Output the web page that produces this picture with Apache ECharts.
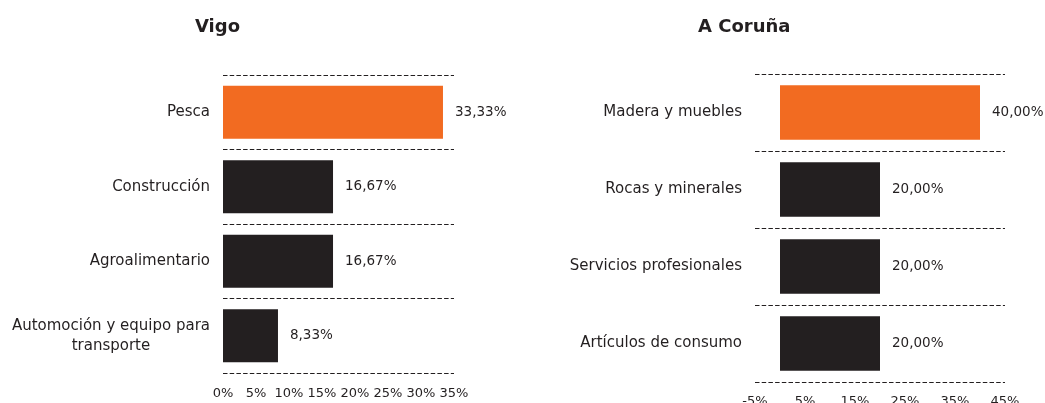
<!DOCTYPE html>
<html>
<head>
<meta charset="utf-8">
<script src="https://cdn.jsdelivr.net/npm/echarts@6/dist/echarts.min.js"></script>
<style>
  html, body { margin: 0; padding: 0; background: #fff; }
  #chart { width: 1045px; height: 403px; }
</style>
</head>
<body>
<div id="chart"></div>
<script>
// Vigo
const vigoCats = ['Pesca', 'Construcción', 'Agroalimentario', 'Automoción y equipo para\ntransporte']
const vigoVals = [33.33, 16.67, 16.67, 8.33]
// A Coruña
const corunaCats = ['Madera y muebles', 'Rocas y minerales', 'Servicios profesionales', 'Artículos de consumo']
const corunaVals = [40, 20, 20, 20]

const orange = '#F26B21'
const dark = '#231F20'
const font = 'DejaVu Sans'

const chart = echarts.init(document.getElementById('chart'))

function pct (v) {
  return v.toFixed(2).replace('.', ',') + '%'
}

function catAxis (idx, cats) {
  return {
    type: 'category',
    gridIndex: idx,
    data: cats,
    inverse: true,
    axisLine: { show: false },
    axisTick: { show: false },
    splitLine: {
      show: true,
      lineStyle: { color: dark, width: 1, type: [4.5, 2.2] }
    },
    axisLabel: {
      margin: 13,
      color: dark,
      fontFamily: font,
      fontSize: 15,
      lineHeight: 20,
      formatter: function (v) { return '{c|' + v.split('\n').join('}\n{c|') + '}' },
      rich: { c: { align: 'center', fontFamily: font, fontSize: 15, color: dark, lineHeight: 20 } }
    }
  }
}

function valAxis (idx, min, max, step, margin) {
  return {
    type: 'value',
    gridIndex: idx,
    min: min,
    max: max,
    interval: step,
    axisLine: { show: false },
    axisTick: { show: false },
    splitLine: { show: false },
    axisLabel: {
      margin: margin,
      color: dark,
      fontFamily: font,
      fontSize: 13,
      formatter: '{value}%'
    }
  }
}

function barSeries (idx, vals) {
  return {
    type: 'bar',
    xAxisIndex: idx,
    yAxisIndex: idx,
    data: vals,
    barCategoryGap: '29%',
    itemStyle: {
      color: function (p) { return p.dataIndex === 0 ? orange : dark }
    },
    label: {
      show: true,
      position: 'right',
      distance: 12,
      color: dark,
      fontFamily: font,
      fontSize: 13.5,
      formatter: function (p) { return pct(p.value) }
    }
  }
}

const option = {
  animation: false,
  title: [
    { text: 'Vigo', left: 195, top: 18, padding: 0,
      textStyle: { fontFamily: font, fontSize: 18, fontWeight: 'bold', color: dark } },
    { text: 'A Coruña', left: 698, top: 18, padding: 0,
      textStyle: { fontFamily: font, fontSize: 18, fontWeight: 'bold', color: dark } }
  ],
  grid: [
    { left: 223, width: 231, top: 75, height: 298, outerBoundsMode: 'none' },
    { left: 755, width: 250, top: 74, height: 308, outerBoundsMode: 'none' }
  ],
  xAxis: [
    valAxis(0, 0, 35, 5, 14),
    valAxis(1, -5, 45, 10, 13)
  ],
  yAxis: [
    catAxis(0, vigoCats),
    catAxis(1, corunaCats)
  ],
  series: [
    barSeries(0, vigoVals),
    barSeries(1, corunaVals)
  ]
}

chart.setOption(option)
</script>
</body>
</html>
